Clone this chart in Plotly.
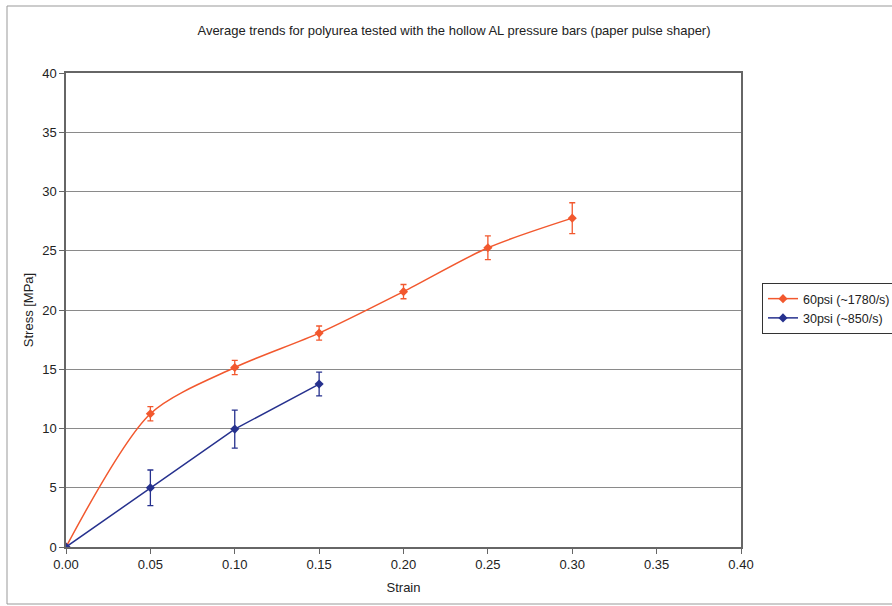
import plotly.graph_objects as go

strain_60 = [0.0, 0.05, 0.10, 0.15, 0.20, 0.25, 0.30]
stress_60 = [0.0, 11.25, 15.15, 18.05, 21.55, 25.25, 27.75]
err_60 = [0.0, 0.6, 0.6, 0.6, 0.6, 1.0, 1.3]

strain_30 = [0.0, 0.05, 0.10, 0.15]
stress_30 = [0.0, 5.0, 9.95, 13.75]
err_30 = [0.0, 1.5, 1.6, 1.0]

name_60 = "60psi (~1780/s)"
name_30 = "30psi (~850/s)"

orange = "#F2582E"
blue = "#26318E"

fig = go.Figure()
fig.add_trace(go.Scatter(
    x=strain_60, y=stress_60, name=name_60, mode="lines+markers",
    line=dict(color=orange, width=1.5, shape="spline", smoothing=0.8),
    marker=dict(symbol="diamond", size=7, color=orange),
    error_y=dict(type="data", array=err_60, color=orange, thickness=1.3, width=3),
))
fig.add_trace(go.Scatter(
    x=strain_30, y=stress_30, name=name_30, mode="lines+markers",
    line=dict(color=blue, width=1.5),
    marker=dict(symbol="diamond", size=7, color=blue),
    error_y=dict(type="data", array=err_30, color=blue, thickness=1.3, width=3),
))

L, R, T, B = 66, 151, 73, 59
W, H = 892, 606
pw = W - L - R
ph = H - T - B

def px(xp):
    return (xp - L) / pw

def py(yp):
    return (H - B - yp) / ph

FONT = "Liberation Sans, Arial, sans-serif"
fig.update_layout(
    width=W, height=H,
    margin=dict(l=L, r=R, t=T, b=B, autoexpand=False),
    paper_bgcolor="white", plot_bgcolor="white",
    font=dict(family=FONT, size=13, color="#222"),
    title=dict(text="Average trends for polyurea tested with the hollow AL pressure bars (paper pulse shaper)",
               x=454 / W, xanchor="center", y=1 - 30 / H, yanchor="middle",
               font=dict(size=13, color="#222")),
    showlegend=True,
    legend=dict(x=px(762), y=py(308.5), xanchor="left", yanchor="middle",
                bgcolor="white", bordercolor="#333", borderwidth=1,
                font=dict(size=12.5, color="#222"), itemwidth=30, tracegroupgap=0),
    xaxis=dict(range=[0, 0.40], tickvals=[0, 0.05, 0.1, 0.15, 0.2, 0.25, 0.3, 0.35, 0.4],
               tickformat=".2f", ticks="outside", ticklen=5, tickcolor="#666",
               showgrid=False, zeroline=False, showline=True, linecolor="#666", linewidth=1.5,
               mirror=True, automargin=False,
               title=dict(text="Strain", font=dict(size=13), standoff=12)),
    yaxis=dict(range=[0, 40], tickvals=[0, 5, 10, 15, 20, 25, 30, 35, 40],
               ticks="outside", ticklen=5, tickcolor="#666",
               showgrid=True, gridcolor="#8a8a8a", gridwidth=1, zeroline=False,
               showline=True, linecolor="#666", linewidth=1.5, mirror=True, automargin=False,
               title=dict(text="Stress [MPa]", font=dict(size=13), standoff=6)),
)

# outer chart-area frame (left, top, bottom edges)
fig.add_shape(type="line", xref="paper", yref="paper", x0=px(7), x1=px(7), y0=py(604), y1=py(6),
              line=dict(color="#999", width=1))
fig.add_shape(type="line", xref="paper", yref="paper", x0=px(7), x1=px(900), y0=py(6), y1=py(6),
              line=dict(color="#999", width=1))
fig.add_shape(type="line", xref="paper", yref="paper", x0=px(7), x1=px(900), y0=py(604), y1=py(604),
              line=dict(color="#999", width=1))

fig.write_html("out.html",
               config={"displayModeBar": False},
               post_script="document.body.style.margin='0';document.body.style.padding='0';")
